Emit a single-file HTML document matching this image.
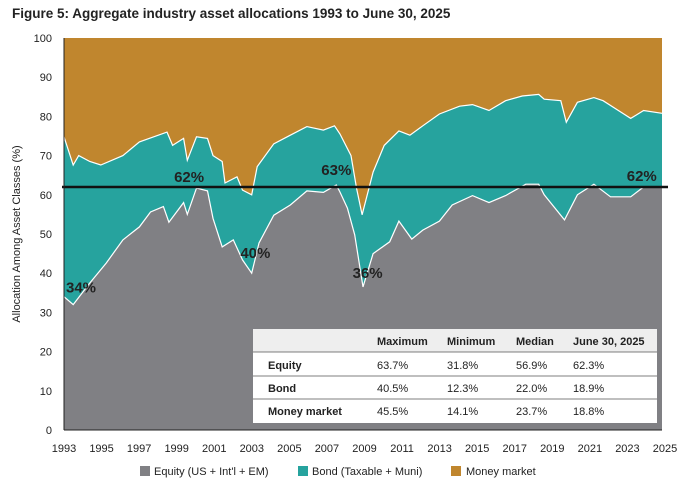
<!DOCTYPE html>
<html><head><meta charset="utf-8"><style>
body{margin:0;background:#fff;font-family:"Liberation Sans",sans-serif;}
svg{display:block}
</style></head><body>
<svg id="c" width="677" height="490" xmlns="http://www.w3.org/2000/svg">
<text x="12" y="18" font-size="13.5" font-weight="bold" fill="#222">Figure 5: Aggregate industry asset allocations 1993 to June 30, 2025</text>
<g id="plot"></g>
<g id="axes"></g>
<g font-size="11" fill="#222">
<rect x="253" y="329" width="404" height="94" fill="#fff"/>
<rect x="253" y="329" width="404" height="23" fill="#eeeeee"/>
<line x1="253" x2="657" y1="352" y2="352" stroke="#555" stroke-width="0.8"/>
<line x1="253" x2="657" y1="376" y2="376" stroke="#555" stroke-width="0.8"/>
<line x1="253" x2="657" y1="399" y2="399" stroke="#555" stroke-width="0.8"/>
<g font-weight="bold"><text x="377" y="345">Maximum</text><text x="447" y="345">Minimum</text><text x="516" y="345">Median</text><text x="573" y="345">June 30, 2025</text>
<text x="268" y="369">Equity</text><text x="268" y="392">Bond</text><text x="268" y="415">Money market</text></g>
<text x="377" y="369">63.7%</text><text x="447" y="369">31.8%</text><text x="516" y="369">56.9%</text><text x="573" y="369">62.3%</text>
<text x="377" y="392">40.5%</text><text x="447" y="392">12.3%</text><text x="516" y="392">22.0%</text><text x="573" y="392">18.9%</text>
<text x="377" y="415">45.5%</text><text x="447" y="415">14.1%</text><text x="516" y="415">23.7%</text><text x="573" y="415">18.8%</text>
</g>
<g font-size="11" fill="#222">
<rect x="140" y="466" width="10" height="10" fill="#808084"/>
<text x="154" y="475">Equity (US + Int'l + EM)</text>
<rect x="298" y="466" width="10" height="10" fill="#26A39E"/>
<text x="312" y="475">Bond (Taxable + Muni)</text>
<rect x="451" y="466" width="10" height="10" fill="#C0862E"/>
<text x="466" y="475">Money market</text>
</g>
<text transform="translate(20,234) rotate(-90)" text-anchor="middle" font-size="11" fill="#222">Allocation Among Asset Classes (%)</text>
</svg>
<script>
const equityDates=[1993,1993.5,1994.4,1995.3,1996.2,1997.1,1997.7,1998.4,1998.7,1999.5,1999.7,2000.2,2000.8,2001.1,2001.6,2002.2,2002.7,2003.2,2003.6,2004.4,2005.3,2006.2,2007.1,2007.8,2008.0,2008.4,2008.8,2009.25,2009.8,2010.7,2011.2,2011.9,2012.5,2013.4,2014.1,2015.2,2016.1,2017.0,2018.1,2018.8,2019.1,2020.2,2020.9,2021.8,2022.7,2023.8,2024.5,2025.5];
const equity=[34,32,37.5,42.6,48.5,51.8,55.6,57,53,58,55,61.7,61,54,46.7,48.5,43.4,40,47.7,54.8,57.4,61,60.6,62.5,60.7,56.6,49.8,36.5,45,48,53.3,48.7,51,53.3,57.4,59.8,58,59.8,62.7,62.7,60,53.6,60,62.7,59.5,59.5,62,62];
const totalDates=[1993,1993.5,1993.8,1994.4,1995.0,1996.2,1997.1,1998.6,1998.9,1999.5,1999.7,2000.2,2000.8,2001.1,2001.6,2001.75,2002.4,2002.7,2003.2,2003.5,2004.4,2005.3,2006.2,2007.1,2007.7,2008.0,2008.6,2008.9,2009.2,2009.8,2010.4,2011.2,2011.8,2012.5,2013.4,2014.5,2015.2,2016.1,2017.0,2017.9,2018.8,2019.1,2020.0,2020.3,2020.9,2021.8,2022.3,2023.3,2023.8,2024.5,2025.5];
const equityPlusBond=[74.8,67.6,70,68.5,67.6,70,73.5,76,72.6,74.4,68.8,74.8,74.4,70,68.5,63,64.6,61.2,60,67.2,73,75.2,77.4,76.5,77.6,75.5,70,61.6,54.9,65.8,72.6,76.3,75.2,77.6,80.6,82.6,83,81.5,84,85.2,85.6,84.4,84,78.5,83.6,84.8,84,81,79.5,81.5,80.8];
const yTicks=[0,10,20,30,40,50,60,70,80,90,100];
const xTicks=[1993,1995,1997,1999,2001,2003,2005,2007,2009,2011,2013,2015,2017,2019,2021,2023,2025];
const refValue=62;
const annotations=[[1993.0,34,"34%"],[1999.8,62,"62%"],[2003.4,40,"40%"],[2007.8,63,"63%"],[2009.5,36,"36%"],[2024.4,62,"62%"]];
const annoOffset=[[2,-4],[0,-5],[0,-15],[0,-8],[0,-11],[0,-6]];

const X0=64,X1=662,Y0=430,Y1=38;
const xs=d=>X0+(d-1993)/(2025.5-1993)*(X1-X0);
const ys=v=>Y0-v/100*(Y0-Y1);
const NS="http://www.w3.org/2000/svg";
const plot=document.getElementById('plot'),axes=document.getElementById('axes');
function mk(tag,attrs,parent){const e=document.createElementNS(NS,tag);for(const k in attrs)e.setAttribute(k,attrs[k]);parent.appendChild(e);return e;}
const bg=mk('rect',{x:X0,y:Y1,width:X1-X0,height:Y0-Y1,fill:'#C0862E'},plot);


function area(dates,vals,fill,name){
  let d='M'+xs(dates[0])+','+Y0;
  dates.forEach((t,i)=>d+=' L'+xs(t).toFixed(1)+','+ys(vals[i]).toFixed(1));
  d+=' L'+xs(dates[dates.length-1])+','+Y0+' Z';
  const p=mk('path',{d:d,fill:fill},plot);
  
  
  let l='';dates.forEach((t,i)=>l+=(i?' L':'M')+xs(t).toFixed(1)+','+ys(vals[i]).toFixed(1));
  const ln=mk('path',{d:l,fill:'none',stroke:'#fff','stroke-width':1.2},plot);
  
  
}
area(totalDates,equityPlusBond,'#26A39E','bond-area');
area(equityDates,equity,'#808084','equity-area');
const ref=mk('line',{x1:X0-2,x2:X1+6,y1:ys(refValue),y2:ys(refValue),stroke:'#111','stroke-width':2.5},plot);


annotations.forEach((a,i)=>{
  const t=mk('text',{x:xs(a[0])+annoOffset[i][0],y:ys(a[1])+annoOffset[i][1],'font-size':15,'font-weight':'bold',fill:'#222','text-anchor':i==0?'start':'middle'},plot);
  t.textContent=a[2];
  
  
});
mk('line',{x1:X0,x2:X0,y1:Y1,y2:Y0,stroke:'#222','stroke-width':1},axes);
mk('line',{x1:X0,x2:X1,y1:Y0,y2:Y0,stroke:'#222','stroke-width':1},axes);
yTicks.forEach(v=>{
  const t=mk('text',{x:X0-12,y:ys(v)+4,'font-size':11,fill:'#222','text-anchor':'end'},axes);
  t.textContent=v;
  
  
});
xTicks.forEach(v=>{
  const t=mk('text',{x:X0+(v-1993)*(665-64)/32,y:452,'font-size':11,fill:'#222','text-anchor':'middle'},axes);
  t.textContent=v;
  
  
});
</script>
</body></html>
